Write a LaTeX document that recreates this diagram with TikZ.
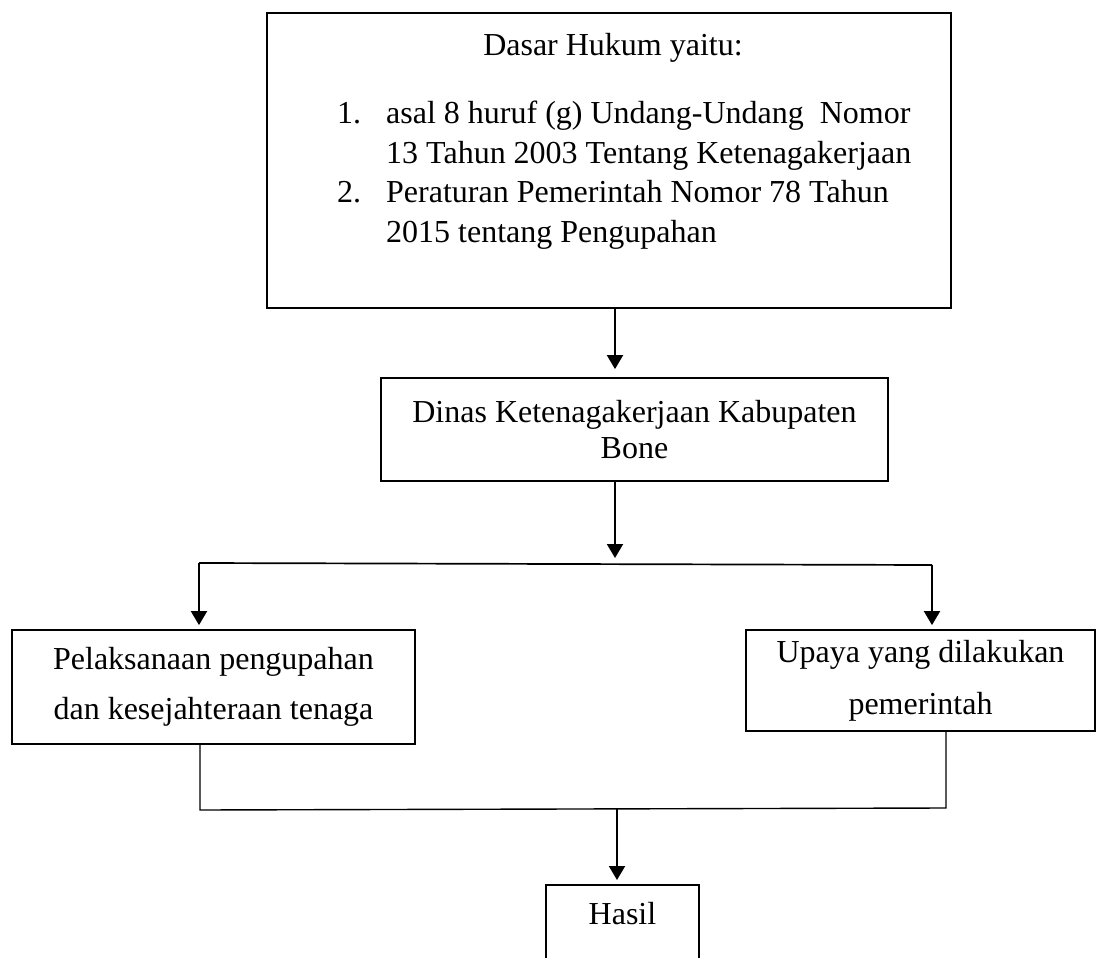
\documentclass[tikz,border=0pt]{standalone}
\usepackage{fontspec}
\setmainfont{Liberation Serif}
\usetikzlibrary{arrows.meta}
\begin{document}
\begin{tikzpicture}[x=1pt,y=-1pt,
  font=\fontsize{32}{37}\selectfont,
  box/.style={draw, line width=1.8pt, align=center, inner sep=0pt},
  txt/.style={inner sep=0pt},
  arr/.style={line width=2pt, -{Triangle[width=16pt,length=14pt]}},
  link/.style={line width=1.7pt},
  thinlink/.style={line width=1.4pt}]
\useasboundingbox (0,0) rectangle (1096,958);
\fill[white] (0,0) rectangle (1096,958);
\clip (0,0) rectangle (1096,958);

% top box
\node[box, minimum width=684pt, minimum height=295pt] (dasar) at (609,160.5) {};
\node[txt, anchor=base] (title) at (613,56) {Dasar Hukum yaitu:};
\node[txt, anchor=base west, font=\fontsize{32}{40}\selectfont] (list) at (337,123)
  {\begin{tabular}[t]{@{}p{49pt}@{}l@{}}
   1. & asal 8 huruf (g) Undang-Undang\ \ Nomor\\
      & 13 Tahun 2003 Tentang Ketenagakerjaan\\
   2. & Peraturan Pemerintah Nomor 78 Tahun\\
      & 2015 tentang Pengupahan
   \end{tabular}};

% middle box
\node[box, minimum width=507pt, minimum height=103pt, font=\fontsize{32}{36}\selectfont]
  (dinas) at (634.5,429.5) {Dinas Ketenagakerjaan Kabupaten\\Bone};

% lower boxes
\node[box, minimum width=403pt, minimum height=114pt, font=\fontsize{32}{50}\selectfont]
  (pel) at (213.5,687) {Pelaksanaan pengupahan\\dan kesejahteraan tenaga};
\node[box, minimum width=349pt, minimum height=101pt, font=\fontsize{32}{52}\selectfont]
  (upaya) at (920.5,680.5) {Upaya yang dilakukan\\pemerintah};

% result box
\node[box, anchor=north, minimum width=153pt, inner ysep=18pt, text height=22pt, text depth=60pt]
  (hasil) at (622.5,884) {Hasil};

% connectors
\coordinate (c1) at (615,0);
\coordinate (jl) at (199,563);
\coordinate (jr) at (932,565);
\coordinate (jm) at (615,563);
\coordinate (bl) at (200,810);
\coordinate (br) at (946,808);
\coordinate (bm) at (617,809);

\draw[arr, shorten >=8pt] (dasar.south -| c1) -- (dinas.north -| c1);
\draw[arr, shorten >=5pt] (dinas.south -| c1) -- (jm);
\draw[link] (jl) -- (jr);
\draw[arr, shorten >=4pt] (jl) -- (pel.north -| jl);
\draw[arr, shorten >=4pt] (jr) -- (upaya.north -| jr);
\draw[thinlink] (pel.south -| bl) -- (bl) -- (br) -- (upaya.south -| br);
\draw[arr, shorten >=4pt] (bm) -- (hasil.north -| bm);
\end{tikzpicture}
\end{document}
